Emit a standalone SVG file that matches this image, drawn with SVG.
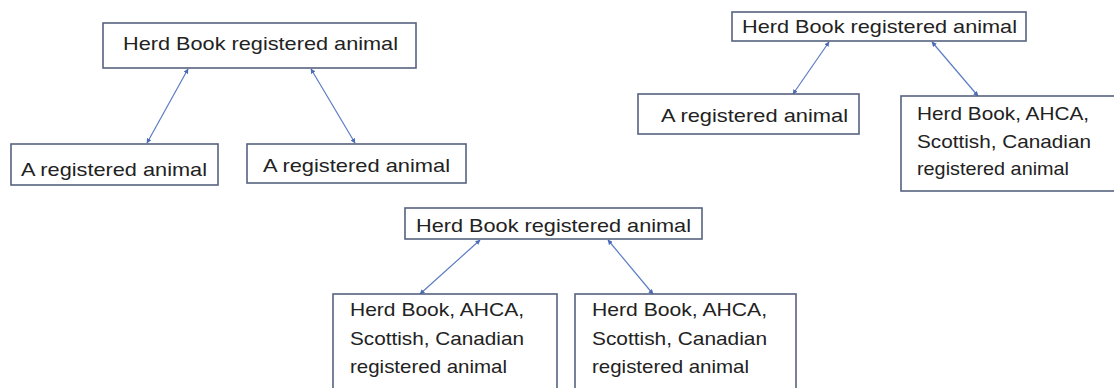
<svg xmlns="http://www.w3.org/2000/svg" width="1114" height="388" viewBox="0 0 1114 388">
<style>
.box{fill:#fff;stroke:#56627f;stroke-width:1.6}
.t{font-family:"Liberation Sans",Arial,sans-serif;font-size:19px;fill:#222}
.c{stroke:#5b7cc4;stroke-width:1.2;fill:none;marker-start:url(#a);marker-end:url(#a)}
</style>
<defs>
<marker id="a" viewBox="0 0 10 10" refX="9" refY="5" markerWidth="5" markerHeight="5" orient="auto-start-reverse" markerUnits="userSpaceOnUse">
<path d="M0,0 L10,5 L0,10 z" fill="#4a6bb8"/>
</marker>
</defs>
<rect width="1114" height="388" fill="#fff"/>
<g id="connectors">
<line class="c" x1="147" y1="143" x2="188" y2="69"/>
<line class="c" x1="355" y1="143" x2="311" y2="69"/>
<line class="c" x1="793" y1="94" x2="829" y2="42"/>
<line class="c" x1="978" y1="96" x2="932" y2="42"/>
<line class="c" x1="420" y1="294" x2="480" y2="240"/>
<line class="c" x1="653" y1="294" x2="608" y2="240"/>
</g>
<g id="d1-top">
<rect class="box" x="103" y="23" width="313" height="45"/>
<text class="t" x="123" y="50" textLength="275" lengthAdjust="spacingAndGlyphs">Herd Book registered animal</text>
</g>
<g id="d1-left">
<rect class="box" x="11" y="144" width="207" height="41"/>
<text class="t" x="21" y="176" textLength="186" lengthAdjust="spacingAndGlyphs">A registered animal</text>
</g>
<g id="d1-right">
<rect class="box" x="247" y="144" width="219" height="39"/>
<text class="t" x="263" y="172" textLength="187" lengthAdjust="spacingAndGlyphs">A registered animal</text>
</g>
<g id="d2-top">
<rect class="box" x="732" y="12" width="294" height="29"/>
<text class="t" x="742" y="33" textLength="275" lengthAdjust="spacingAndGlyphs">Herd Book registered animal</text>
</g>
<g id="d2-left">
<rect class="box" x="638" y="94" width="221" height="40"/>
<text class="t" x="661" y="122" textLength="187" lengthAdjust="spacingAndGlyphs">A registered animal</text>
</g>
<g id="d2-right">
<rect class="box" x="901" y="96" width="230" height="95"/>
<text class="t" x="917" y="120" textLength="172" lengthAdjust="spacingAndGlyphs">Herd Book, AHCA,</text>
<text class="t" x="917" y="148" textLength="174" lengthAdjust="spacingAndGlyphs">Scottish, Canadian</text>
<text class="t" x="917" y="175" textLength="152" lengthAdjust="spacingAndGlyphs">registered animal</text>
</g>
<g id="d3-top">
<rect class="box" x="405" y="208" width="297" height="31"/>
<text class="t" x="416" y="232" textLength="275" lengthAdjust="spacingAndGlyphs">Herd Book registered animal</text>
</g>
<g id="d3-left">
<rect class="box" x="333" y="294" width="224" height="110"/>
<text class="t" x="350" y="316" textLength="174" lengthAdjust="spacingAndGlyphs">Herd Book, AHCA,</text>
<text class="t" x="350" y="345" textLength="174" lengthAdjust="spacingAndGlyphs">Scottish, Canadian</text>
<text class="t" x="350" y="373" textLength="157" lengthAdjust="spacingAndGlyphs">registered animal</text>
</g>
<g id="d3-right">
<rect class="box" x="575" y="294" width="221" height="110"/>
<text class="t" x="592" y="316" textLength="175" lengthAdjust="spacingAndGlyphs">Herd Book, AHCA,</text>
<text class="t" x="592" y="345" textLength="175" lengthAdjust="spacingAndGlyphs">Scottish, Canadian</text>
<text class="t" x="592" y="373" textLength="157" lengthAdjust="spacingAndGlyphs">registered animal</text>
</g>
</svg>
